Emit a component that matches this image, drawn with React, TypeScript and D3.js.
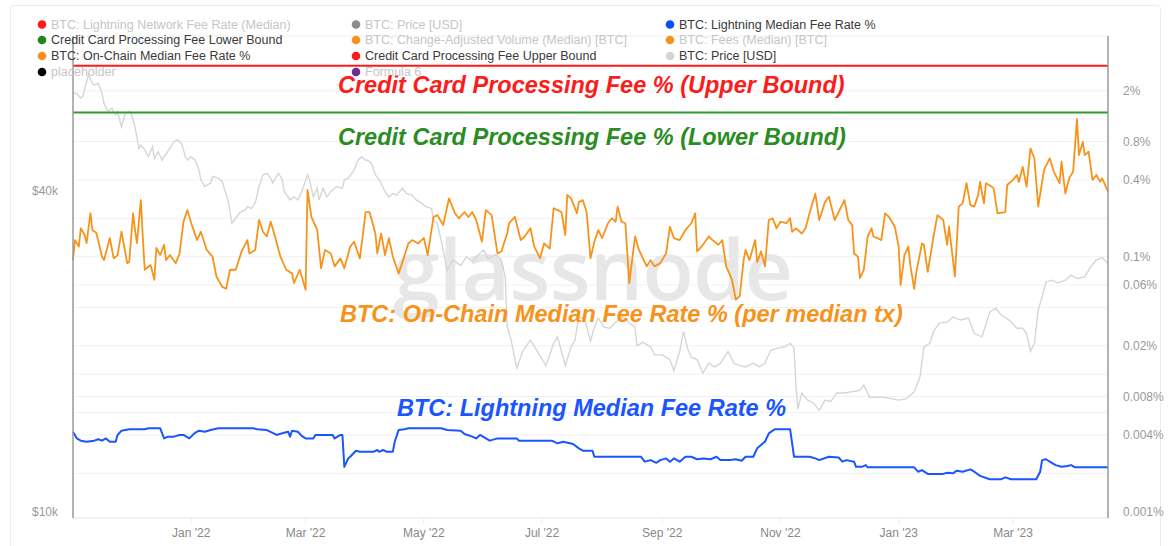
import React from "react";
import * as d3 from "d3";

// ---------- data ----------
const START = new Date(2021, 10, 1); // day 0 = 1 Nov 2021
const END_DAY = 534;

// [day offset, on-chain median fee rate %]
const onChainFee: [number, number][] = [
  [0,0.094],[1,0.135],[3,0.120],[4,0.167],[6,0.148],[7,0.128],[9,0.220],[10,0.162],[12,0.154],[15,0.100],[16,0.094],[19,0.140],[21,0.097],[23,0.103],[25,0.157],[28,0.089],[29,0.091],[31,0.219],[32,0.162],[33,0.128],[35,0.278],[36,0.144],[37,0.079],[40,0.086],[42,0.066],[43,0.117],[45,0.103],[47,0.124],[48,0.094],[50,0.103],[53,0.089],[55,0.106],[57,0.188],[59,0.232],[61,0.183],[64,0.135],[66,0.157],[69,0.113],[72,0.100],[74,0.070],[77,0.058],[79,0.056],[81,0.079],[84,0.079],[87,0.110],[90,0.135],[91,0.106],[94,0.113],[96,0.194],[98,0.157],[100,0.144],[102,0.188],[104,0.148],[107,0.100],[110,0.079],[113,0.074],[114,0.062],[117,0.079],[120,0.055],[121,0.334],[123,0.205],[126,0.162],[128,0.081],[130,0.113],[133,0.106],[135,0.084],[138,0.097],[140,0.081],[143,0.120],[145,0.131],[148,0.097],[151,0.224],[153,0.224],[156,0.152],[157,0.106],[159,0.152],[161,0.103],[163,0.140],[165,0.100],[168,0.074],[170,0.091],[173,0.127],[175,0.135],[178,0.127],[181,0.140],[183,0.103],[186,0.205],[188,0.212],[191,0.177],[194,0.287],[197,0.220],[199,0.200],[202,0.224],[204,0.205],[206,0.224],[208,0.194],[211,0.131],[213,0.232],[216,0.212],[219,0.106],[221,0.110],[224,0.152],[225,0.183],[228,0.205],[231,0.135],[233,0.144],[236,0.167],[238,0.120],[241,0.097],[243,0.127],[246,0.116],[248,0.240],[250,0.232],[252,0.224],[254,0.148],[255,0.305],[257,0.287],[260,0.219],[261,0.268],[263,0.278],[265,0.224],[267,0.097],[269,0.131],[271,0.162],[273,0.140],[276,0.183],[278,0.200],[280,0.188],[281,0.247],[283,0.188],[285,0.183],[287,0.062],[290,0.144],[292,0.113],[296,0.084],[298,0.094],[300,0.084],[303,0.089],[306,0.106],[308,0.172],[310,0.140],[313,0.135],[316,0.162],[319,0.183],[321,0.219],[322,0.110],[325,0.124],[328,0.144],[330,0.135],[333,0.124],[335,0.135],[337,0.084],[340,0.066],[342,0.046],[344,0.049],[346,0.094],[347,0.113],[349,0.094],[352,0.135],[353,0.091],[355,0.110],[357,0.084],[359,0.194],[361,0.200],[363,0.167],[365,0.188],[368,0.183],[370,0.200],[371,0.157],[373,0.167],[376,0.152],[378,0.167],[380,0.219],[383,0.313],[385,0.194],[388,0.268],[390,0.295],[393,0.194],[396,0.240],[398,0.278],[400,0.194],[402,0.177],[403,0.106],[405,0.100],[406,0.068],[408,0.079],[410,0.144],[412,0.167],[413,0.144],[415,0.140],[417,0.135],[419,0.219],[421,0.205],[424,0.172],[426,0.120],[427,0.060],[429,0.103],[431,0.120],[432,0.086],[434,0.056],[435,0.074],[438,0.127],[439,0.124],[441,0.076],[444,0.144],[446,0.212],[449,0.194],[451,0.124],[452,0.172],[455,0.070],[457,0.247],[459,0.262],[461,0.377],[463,0.254],[465,0.247],[467,0.305],[468,0.386],[470,0.262],[471,0.377],[474,0.354],[475,0.343],[477,0.219],[481,0.224],[482,0.365],[485,0.400],[487,0.437],[488,0.386],[490,0.505],[492,0.354],[494,0.708],[496,0.592],[498,0.247],[501,0.479],[504,0.592],[506,0.465],[509,0.377],[510,0.558],[512,0.313],[514,0.412],[516,0.465],[518,1.20],[519,0.627],[521,0.794],[522,0.627],[524,0.667],[526,0.400],[528,0.437],[530,0.386],[531,0.412],[534,0.324],
];

// [day offset, lightning median fee rate %]
const lightningFee: [number, number][] = [
  [0,0.00424],[2,0.00376],[4,0.00361],[7,0.00354],[11,0.00361],[13,0.00370],[15,0.00361],[17,0.00376],[19,0.00354],[22,0.00354],[23,0.00400],[25,0.00432],[29,0.00443],[37,0.00443],[39,0.00451],[45,0.00451],[47,0.00376],[49,0.00388],[52,0.00388],[55,0.00400],[57,0.00400],[60,0.00376],[63,0.00416],[65,0.00432],[68,0.00424],[71,0.00437],[75,0.00451],[93,0.00451],[95,0.00443],[100,0.00437],[103,0.00416],[105,0.00400],[108,0.00412],[111,0.00424],[112,0.00388],[113,0.00432],[116,0.00424],[118,0.00393],[120,0.00376],[124,0.00376],[125,0.00400],[134,0.00400],[135,0.00376],[138,0.00400],[139,0.00400],[140,0.00225],[142,0.00262],[143,0.00270],[146,0.00301],[148,0.00295],[155,0.00295],[157,0.00305],[158,0.00295],[160,0.00305],[162,0.00295],[165,0.00295],[166,0.00354],[168,0.00437],[171,0.00443],[173,0.00451],[190,0.00451],[193,0.00437],[200,0.00432],[202,0.00407],[206,0.00388],[208,0.00376],[210,0.00400],[213,0.00376],[215,0.00361],[219,0.00376],[229,0.00376],[230,0.00361],[247,0.00361],[250,0.00344],[253,0.00354],[258,0.00340],[261,0.00314],[263,0.00301],[268,0.00301],[269,0.00270],[293,0.00270],[295,0.00247],[298,0.00254],[301,0.00242],[303,0.00254],[306,0.00262],[308,0.00247],[310,0.00262],[313,0.00247],[316,0.00270],[319,0.00270],[322,0.00258],[325,0.00262],[329,0.00258],[332,0.00270],[334,0.00254],[339,0.00254],[342,0.00258],[345,0.00251],[347,0.00270],[351,0.00270],[353,0.00314],[356,0.00344],[357,0.00354],[359,0.00412],[362,0.00443],[370,0.00443],[372,0.00270],[380,0.00270],[383,0.00262],[385,0.00254],[390,0.00270],[395,0.00266],[397,0.00247],[399,0.00254],[403,0.00247],[404,0.00225],[407,0.00225],[409,0.00232],[410,0.00223],[434,0.00223],[436,0.00206],[438,0.00212],[441,0.00198],[449,0.00198],[451,0.00202],[454,0.00200],[456,0.00210],[459,0.00206],[463,0.00215],[465,0.00206],[468,0.00191],[473,0.00180],[479,0.00180],[481,0.00186],[484,0.00180],[497,0.00180],[499,0.00206],[500,0.00254],[502,0.00258],[505,0.00242],[507,0.00232],[510,0.00225],[513,0.00228],[515,0.00232],[517,0.00223],[534,0.00223],
];

// [day offset, BTC price in USD thousands]
const btcPriceK: [number, number][] = [
  [0,61.3],[2,60.9],[4,59.8],[5,60.2],[8,66.1],[10,63.7],[11,63.3],[13,63.7],[15,61.0],[16,58.4],[18,56.4],[20,57.2],[22,55.6],[23,56.4],[25,52.8],[27,56.0],[29,56.4],[30,56.0],[32,52.8],[34,48.1],[35,48.8],[37,47.8],[39,46.4],[41,48.5],[42,46.0],[44,47.4],[46,45.7],[47,46.4],[50,48.1],[52,49.5],[54,49.9],[56,49.1],[58,46.4],[59,45.7],[61,46.4],[63,45.7],[65,43.8],[66,42.0],[68,40.8],[71,41.4],[72,42.6],[75,42.3],[77,41.7],[78,40.5],[80,38.5],[82,34.8],[84,35.6],[86,36.4],[89,36.9],[90,37.4],[92,37.1],[94,38.0],[96,40.8],[98,42.9],[100,43.2],[102,42.3],[103,41.4],[106,43.2],[108,42.0],[109,39.9],[112,38.5],[114,39.0],[116,38.5],[118,39.9],[121,42.9],[122,42.0],[124,39.0],[126,40.5],[127,38.5],[129,40.5],[131,39.0],[133,39.9],[136,40.8],[139,40.5],[140,42.0],[142,42.3],[145,43.8],[147,45.7],[149,46.4],[151,45.7],[152,45.7],[154,45.1],[156,42.9],[158,42.0],[161,39.9],[163,39.0],[165,39.6],[167,39.3],[170,40.5],[172,39.6],[175,39.3],[177,38.5],[180,37.9],[182,37.4],[185,37.1],[186,35.3],[188,34.8],[191,31.0],[193,28.4],[196,29.7],[200,29.0],[203,30.1],[206,29.5],[210,30.6],[212,31.0],[214,29.9],[216,30.1],[218,30.4],[221,29.7],[223,27.6],[224,22.3],[226,21.0],[229,18.6],[232,20.0],[236,21.0],[240,19.9],[244,18.8],[248,20.7],[250,21.3],[254,18.8],[257,20.4],[259,21.0],[261,23.2],[264,23.0],[267,20.9],[269,22.2],[271,23.1],[274,22.2],[277,22.1],[280,22.7],[284,23.2],[287,22.6],[290,22.2],[291,20.5],[294,20.8],[298,20.4],[300,19.7],[304,19.7],[308,19.3],[310,18.4],[313,20.0],[315,21.8],[317,20.3],[319,19.5],[322,19.3],[325,18.2],[328,19.0],[331,18.7],[334,19.0],[338,20.0],[341,19.0],[344,18.8],[347,18.7],[351,19.0],[354,18.7],[357,19.0],[360,20.1],[364,20.3],[367,20.4],[370,20.7],[372,20.3],[373,17.2],[374,15.6],[376,16.7],[379,16.2],[382,16.0],[385,15.5],[388,16.2],[391,16.1],[394,16.7],[398,16.7],[402,16.8],[406,16.9],[408,17.3],[411,16.4],[414,16.4],[418,16.4],[422,16.3],[426,16.2],[430,16.3],[434,16.8],[437,17.9],[439,20.4],[442,20.7],[444,21.8],[447,22.6],[451,22.7],[454,23.2],[458,22.9],[462,23.1],[465,21.6],[469,21.3],[473,23.7],[476,24.1],[479,23.4],[483,22.9],[487,22.1],[490,22.1],[492,21.6],[494,20.0],[496,20.7],[498,23.9],[500,25.3],[502,27.0],[505,27.2],[508,26.9],[512,27.2],[515,27.8],[518,27.4],[522,27.6],[525,28.8],[528,29.7],[531,30.0],[534,29.2],
];

const ccUpperBound = 3.15; // %
const ccLowerBound = 1.35; // %

const xTickDates = ["2022-01-01","2022-03-01","2022-05-01","2022-07-01","2022-09-01","2022-11-01","2023-01-01","2023-03-01"];
const xTickLabels = ["Jan '22","Mar '22","May '22","Jul '22","Sep '22","Nov '22","Jan '23","Mar '23"];
const rightTicks = [2, 0.8, 0.4, 0.1, 0.06, 0.02, 0.008, 0.004, 0.001];
const rightTickLabels = ["2%","0.8%","0.4%","0.1%","0.06%","0.02%","0.008%","0.004%","0.001%"];
const leftTicks = [40, 10];
const leftTickLabels = ["$40k","$10k"];
const gridValues = [2, 1.2, 0.8, 0.4, 0.2, 0.1, 0.06, 0.04, 0.02, 0.012, 0.008, 0.006, 0.004, 0.002];

const legendLabels = [
  ["BTC: Lightning Network Fee Rate (Median)","Credit Card Processing Fee Lower Bound","BTC: On-Chain Median Fee Rate %","placeholder"],
  ["BTC: Price [USD]","BTC: Change-Adjusted Volume (Median) [BTC]","Credit Card Processing Fee Upper Bound","Formula 6"],
  ["BTC: Lightning Median Fee Rate %","BTC: Fees (Median) [BTC]","BTC: Price [USD]"],
];
const legendColors = [
  ["#ff1a1a","#1a8a1a","#f7931a","#000000"],
  ["#8c8c8c","#f7931a","#ff1a1a","#6b2d8e"],
  ["#0a4dff","#f7931a","#d4d4d4"],
];
const legendActive = [
  [false,true,true,false],
  [false,false,true,false],
  [true,false,true],
];

const annotations = [
  { text: "Credit Card Processing Fee % (Upper Bound)", color: "#fb1c1c", x: 338, y: 93 },
  { text: "Credit Card Processing Fee % (Lower Bound)", color: "#2b8c24", x: 338, y: 145 },
  { text: "BTC: On-Chain Median Fee Rate % (per median tx)", color: "#f7931a", x: 340, y: 322 },
  { text: "BTC: Lightning Median Fee Rate %", color: "#1a55ff", x: 397, y: 416 },
];

// ---------- component ----------
export default function App() {
  const W = 1169, H = 546;
  const L = 73, R = 1108, T = 36, B = 518;

  const x = d3.scaleTime().domain([START, d3.timeDay.offset(START, END_DAY)]).range([L, R]);
  const yFee = d3.scaleLog().domain([0.000893, 5.38]).range([B, T]);
  const yPrice = d3.scaleLog().domain([9.73, 78.2]).range([B, T]);
  const xd = (d: number) => x(d3.timeDay.offset(START, d));

  const feeLine = d3.line<[number, number]>().x(d => xd(d[0])).y(d => yFee(d[1]));
  const priceLine = d3.line<[number, number]>().x(d => xd(d[0])).y(d => yPrice(d[1]));
  const parse = d3.timeParse("%Y-%m-%d");

  const legendX = [42, 356, 670];
  const legendY = [24.5, 40, 56, 72];
  const sans = "'Liberation Sans', Arial, sans-serif";

  return (
    <svg width={W} height={H} style={{ position: "absolute", left: 0, top: 0, background: "#fff" }} fontFamily={sans}>
      <rect x={10.5} y={5.5} width={1150} height={600} fill="none" stroke="#ececec" rx={3} />
      {/* grid */}
      {gridValues.map((v, i) => (
        <line key={"g" + i} x1={L} x2={R} y1={yFee(v)} y2={yFee(v)} stroke="#f1f1f1" strokeWidth={1} />
      ))}
      <line x1={L} x2={R} y1={T} y2={T} stroke="#eeeeee" />
      <line x1={L} x2={R} y1={B} y2={B} stroke="#e6e6e6" />
      {/* watermark */}
      <text x={593} y={300} textAnchor="middle" fontFamily="'Open Sans', sans-serif" fontWeight={600} fontSize={84} fill="#e7e7e7" textLength={400} lengthAdjust="spacing">glassnode</text>
      {/* price */}
      <path d={priceLine(btcPriceK) || ""} fill="none" stroke="#d6d6d6" strokeWidth={1.4} />
      {/* credit card bounds */}
      <line x1={L} x2={R} y1={yFee(ccUpperBound)} y2={yFee(ccUpperBound)} stroke="#ff1a1a" strokeWidth={2} />
      <line x1={L} x2={R} y1={yFee(ccLowerBound)} y2={yFee(ccLowerBound)} stroke="#2f9a2f" strokeWidth={2} />
      {/* on-chain */}
      <path d={feeLine(onChainFee) || ""} fill="none" stroke="#f7931a" strokeWidth={1.8} strokeLinejoin="round" />
      {/* lightning */}
      <path d={feeLine(lightningFee) || ""} fill="none" stroke="#1a55ff" strokeWidth={2} strokeLinejoin="round" />
      {/* axes */}
      <line x1={L} x2={L} y1={T} y2={B} stroke="#9a9a9a" strokeWidth={1.5} />
      <line x1={R} x2={R} y1={T} y2={B} stroke="#9a9a9a" strokeWidth={1.5} />
      {leftTicks.map((v, i) => (
        <text key={"lt" + i} x={58} y={yPrice(v) + 4} textAnchor="end" fontSize={12} fill="#999">{leftTickLabels[i]}</text>
      ))}
      {rightTicks.map((v, i) => (
        <text key={"rt" + i} x={1123} y={yFee(v) + 4} fontSize={12} fill="#999">{rightTickLabels[i]}</text>
      ))}
      {xTickDates.map((s, i) => {
        const px = x(parse(s) as Date);
        return (
          <g key={"xt" + i}>
            <line x1={px} x2={px} y1={B} y2={B + 5} stroke="#eaeaea" />
            <text x={px} y={537} textAnchor="middle" fontSize={12} fill="#888">{xTickLabels[i]}</text>
          </g>
        );
      })}
      {/* annotations */}
      {annotations.map((a, i) => (
        <text key={"an" + i} x={a.x} y={a.y} fontSize={23.5} fontWeight="bold" fontStyle="italic" fill={a.color}>{a.text}</text>
      ))}
      {/* legend */}
      {legendLabels.map((col, ci) =>
        col.map((lab, ri) => (
          <g key={"lg" + ci + "-" + ri}>
            <circle cx={legendX[ci]} cy={legendY[ri]} r={4.3} fill={legendColors[ci][ri]} />
            <text x={legendX[ci] + 9} y={legendY[ri] + 4.3} fontSize={12.5} fill={legendActive[ci][ri] ? "#3a3a3a" : "#c6c6c6"}>{lab}</text>
          </g>
        ))
      )}
    </svg>
  );
}
